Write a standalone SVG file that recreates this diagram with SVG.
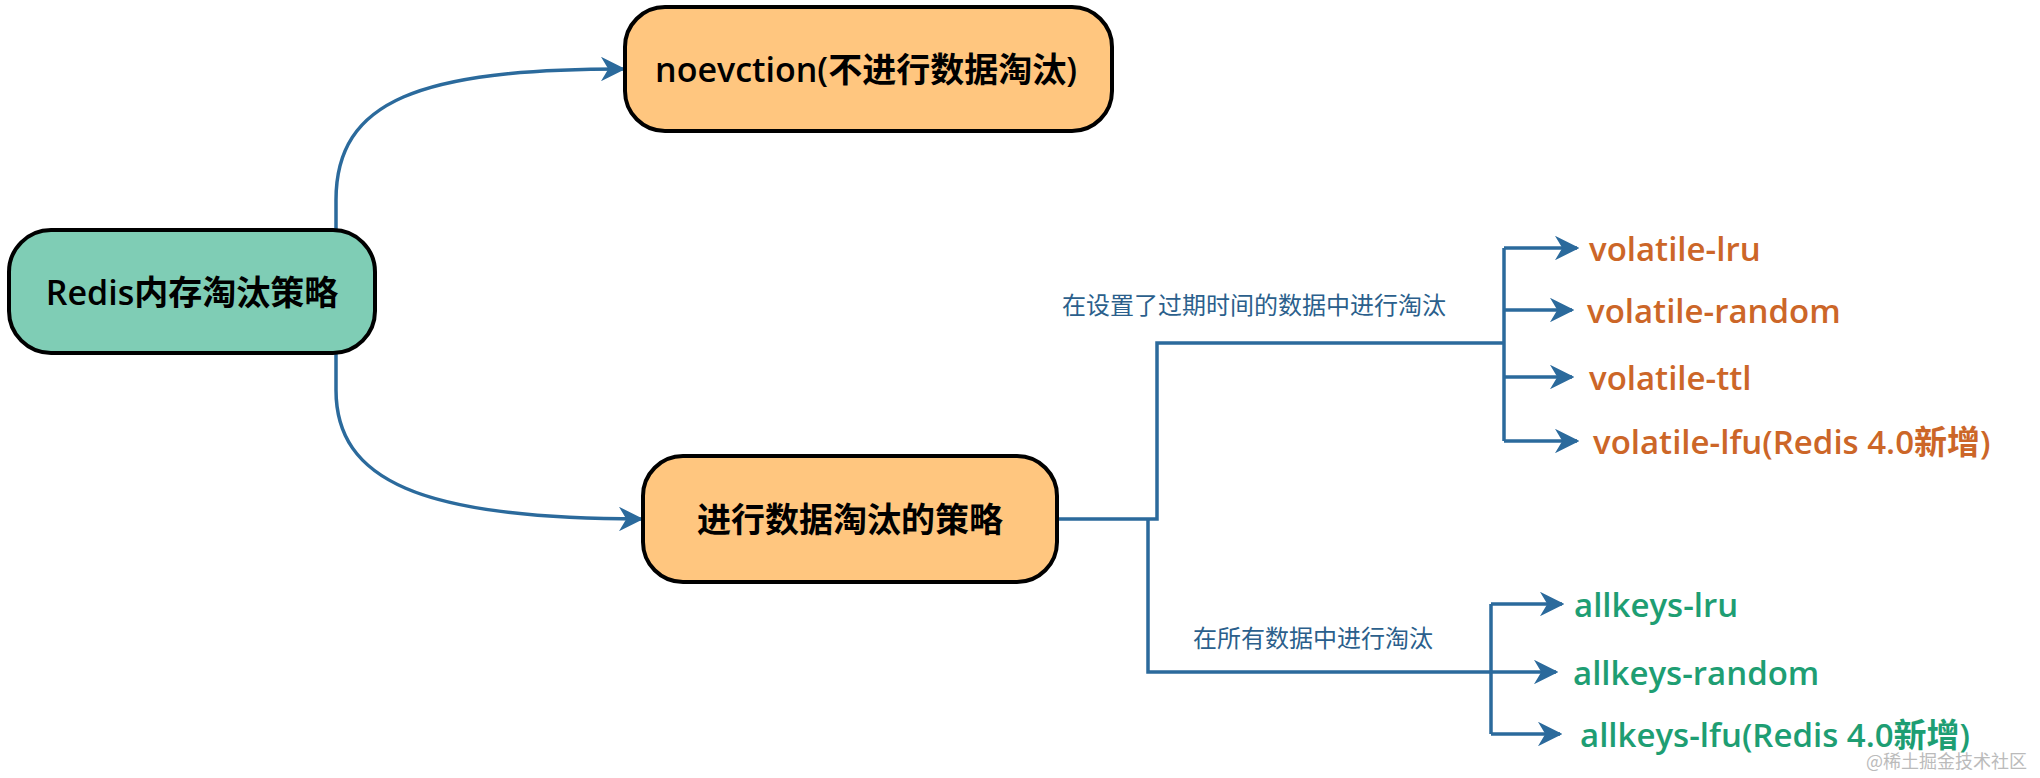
<svg xmlns="http://www.w3.org/2000/svg" width="2040" height="778" viewBox="0 0 2040 778">
<style>
.box{stroke:#000;stroke-width:4}
.t{font-family:"Open Sans","Noto Sans CJK SC",sans-serif;text-anchor:middle;dominant-baseline:central;fill:#000;font-size:34px;font-weight:600}
.c{fill:none;stroke:#2B6A9C;stroke-width:3.5}
.lbl{font-family:"Open Sans","Noto Sans CJK SC",sans-serif;font-size:24px;fill:#2B5F8C}
.o{font-family:"Open Sans","Noto Sans CJK SC",sans-serif;font-size:33px;fill:#CC6628;dominant-baseline:central;font-weight:600}
.g{font-family:"Open Sans","Noto Sans CJK SC",sans-serif;font-size:33px;fill:#1E9E73;dominant-baseline:central;font-weight:600}
</style>
<defs>
<marker id="a" viewBox="0 0 10 10" refX="9" refY="5" markerWidth="7" markerHeight="7" markerUnits="strokeWidth" orient="auto"><path d="M0,0L10,5L0,10L3,5Z" fill="#2B6A9C"/></marker>
</defs>
<rect width="2040" height="778" fill="#fff"/>
<g id="connectors">
<path class="c" d="M336,230V200C336,100 420,69 623,69" marker-end="url(#a)"/>
<path class="c" d="M336,353V390C336,480 420,519 641,519" marker-end="url(#a)"/>
<path class="c" d="M1057,519H1157V343H1504"/>
<path class="c" d="M1504,248V441"/>
<path class="c" d="M1504,248H1577" marker-end="url(#a)"/>
<path class="c" d="M1504,310H1572" marker-end="url(#a)"/>
<path class="c" d="M1504,377H1572" marker-end="url(#a)"/>
<path class="c" d="M1504,441H1577" marker-end="url(#a)"/>
<path class="c" d="M1148,519V672H1491"/>
<path class="c" d="M1491,604V734"/>
<path class="c" d="M1491,604H1562" marker-end="url(#a)"/>
<path class="c" d="M1491,672H1556" stroke-width="2" marker-end="url(#a)"/>
<path class="c" d="M1491,734H1560" marker-end="url(#a)"/>
<text class="lbl" x="1062" y="314">在设置了过期时间的数据中进行淘汰</text>
<text class="lbl" x="1193" y="647">在所有数据中进行淘汰</text>
</g>
<g id="root"><rect class="box" x="9" y="230" width="366" height="123" rx="42" fill="#7FCDB5"/><text class="t" x="192" y="292">Redis内存淘汰策略</text></g>
<g id="noeviction"><rect class="box" x="625" y="7" width="487" height="124" rx="40" fill="#FFC67F"/><text class="t" x="866" y="69">noevction(不进行数据淘汰)</text></g>
<g id="evict"><rect class="box" x="643" y="456" width="414" height="126" rx="40" fill="#FFC67F"/><text class="t" x="850" y="519">进行数据淘汰的策略</text></g>
<g id="volatile-lru"><text class="o" x="1589" y="248">volatile-lru</text></g>
<g id="volatile-random"><text class="o" x="1587" y="310">volatile-random</text></g>
<g id="volatile-ttl"><text class="o" x="1589" y="377">volatile-ttl</text></g>
<g id="volatile-lfu"><text class="o" x="1593" y="441">volatile-lfu(Redis 4.0新增)</text></g>
<g id="allkeys-lru"><text class="g" x="1574" y="604">allkeys-lru</text></g>
<g id="allkeys-random"><text class="g" x="1573" y="672">allkeys-random</text></g>
<g id="allkeys-lfu"><text class="g" x="1580" y="734">allkeys-lfu(Redis 4.0新增)</text></g>
<text x="1866" y="760" font-family="Noto Sans CJK SC,sans-serif" font-size="18" fill="#bbb" dominant-baseline="central">@稀土掘金技术社区</text>
</svg>
